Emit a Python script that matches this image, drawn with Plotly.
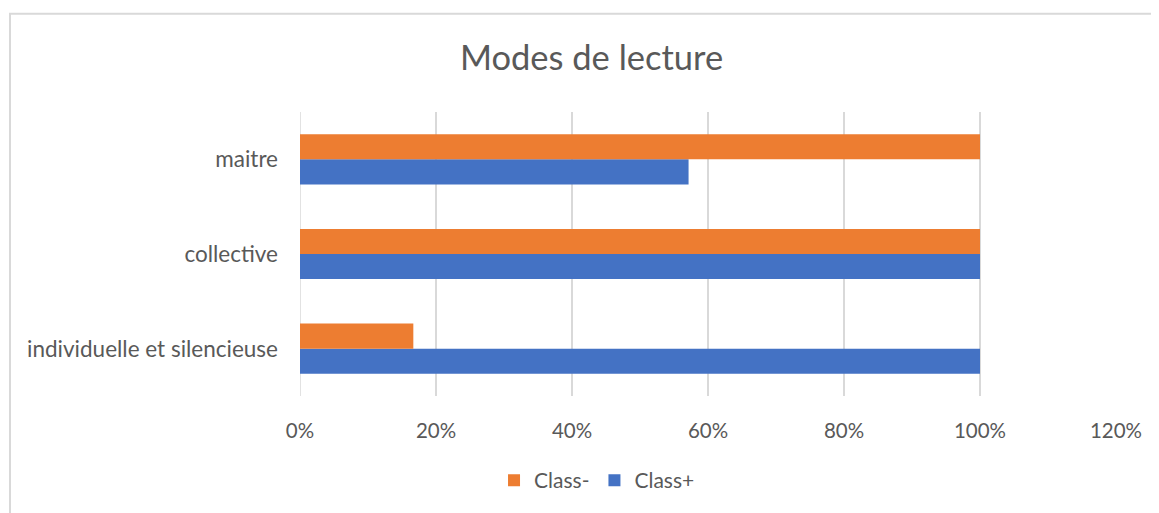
import plotly.graph_objects as go

categories = ["individuelle et silencieuse", "collective", "maitre"]
class_plus = [1.0, 1.0, 4/7]
class_minus = [1/6, 1.0, 1.0]
x_ticks = [0, 0.2, 0.4, 0.6, 0.8, 1.0, 1.2]
x_tick_labels = ["0%", "20%", "40%", "60%", "80%", "100%", "120%"]

FONT = "Lato"
GREY = "#595959"

fig = go.Figure()
fig.add_trace(go.Bar(y=categories, x=class_plus, name="Class+", orientation="h",
                     marker=dict(color="#4472C4", line=dict(width=0))))
fig.add_trace(go.Bar(y=categories, x=class_minus, name="Class-", orientation="h",
                     marker=dict(color="#ED7D31", line=dict(width=0))))

fig.update_layout(
    width=1151, height=505,
    margin=dict(l=292, r=43, t=104, b=115),
    paper_bgcolor="white", plot_bgcolor="white",
    barmode="group", bargap=0.47, bargroupgap=0,
    title=dict(text="Modes de lecture", x=0.507, xanchor="center", y=0.901, yanchor="middle",
               font=dict(family=FONT, size=34.5, color=GREY)),
    font=dict(family=FONT, color=GREY),
    legend=dict(orientation="h", x=0.364, xanchor="center", y=-0.298, yanchor="middle",
                traceorder="reversed", font=dict(family=FONT, size=21, color=GREY),
                itemwidth=30),
    xaxis=dict(range=[0, 1.2], tickvals=x_ticks, ticktext=x_tick_labels,
               showgrid=True, gridcolor="#d9d9d9", gridwidth=1.5,
               zeroline=False, showline=False, ticks="",
               ticklabelstandoff=20,
               tickfont=dict(family=FONT, size=20.5, color=GREY)),
    yaxis=dict(showgrid=False, zeroline=False, showline=False, ticks="",
               ticklabelstandoff=21,
               tickfont=dict(family=FONT, size=22.5, color=GREY)),
    shapes=[dict(type="rect", xref="paper", yref="paper",
                 x0=-0.3554, x1=1.1, y0=-0.5, y1=1.346,
                 line=dict(color="#d9d9d9", width=2), fillcolor="rgba(0,0,0,0)", layer="below")],
)
fig.add_shape(type="line", xref="x", yref="paper", x0=0, x1=0, y0=0, y1=1,
              line=dict(color="#d9d9d9", width=1.5), layer="below")

fig.write_html("out.html")
